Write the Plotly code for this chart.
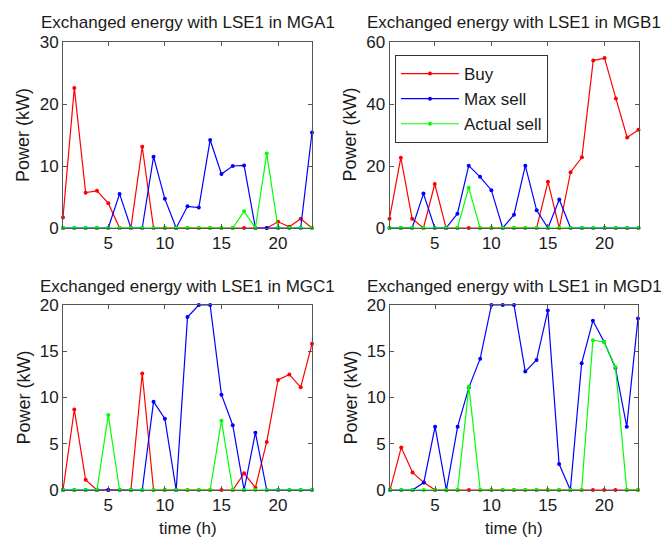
import plotly.graph_objects as go

hours = list(range(1, 24))
x_ticks = [5, 10, 15, 20]

# MGA1
mga_buy = [1.7, 22.6, 5.7, 6.0, 4.0, 0, 0, 13.1, 0, 0, 0, 0, 0, 0, 0, 0, 0, 0, 0, 1.0, 0.2, 1.5, 0]
mga_max = [0, 0, 0, 0, 0, 5.5, 0, 0, 11.5, 4.7, 0, 3.5, 3.3, 14.2, 8.7, 10.0, 10.1, 0, 0, 0, 0, 0, 15.4]
mga_act = [0, 0, 0, 0, 0, 0, 0, 0, 0, 0, 0, 0, 0, 0, 0, 0, 2.7, 0, 12.0, 0, 0, 0, 0]
# MGB1
mgb_buy = [3.0, 22.7, 3.0, 0, 14.2, 0, 0, 0, 0, 0, 0, 0, 0, 0, 14.9, 0, 18.0, 22.8, 54.0, 54.8, 41.8, 29.2, 31.7]
mgb_max = [0, 0, 0, 11.1, 0, 0, 4.6, 20.1, 16.5, 12.2, 0, 4.3, 20.1, 5.7, 0, 9.2, 0, 0, 0, 0, 0, 0, 0]
mgb_act = [0, 0, 0, 0, 0, 0, 0, 13.0, 0, 0, 0, 0, 0, 0, 0, 0, 0, 0, 0, 0, 0, 0, 0]
# MGC1
mgc_buy = [0, 8.7, 1.1, 0, 0, 0, 0, 12.6, 0, 0, 0, 0, 0, 0, 0, 0, 1.8, 0.25, 5.2, 11.9, 12.5, 11.1, 15.8]
mgc_max = [0, 0, 0, 0, 0, 0, 0, 0, 9.55, 7.7, 0, 18.7, 20, 20, 10.3, 7.0, 0, 6.2, 0, 0, 0, 0, 0]
mgc_act = [0, 0, 0, 0, 8.1, 0, 0, 0, 0, 0, 0, 0, 0, 0, 7.5, 0, 0, 0, 0, 0, 0, 0, 0]
# MGD1
mgd_buy = [0, 4.6, 1.9, 0.8, 0, 0, 0, 0, 0, 0, 0, 0, 0, 0, 0, 0, 0, 0, 0, 0, 0, 0, 0]
mgd_max = [0, 0, 0, 0.8, 6.85, 0, 6.85, 11.1, 14.2, 20, 20, 20, 12.8, 14.05, 19.4, 2.8, 0, 13.7, 18.3, 16.0, 13.2, 6.85, 18.55]
mgd_act = [0, 0, 0, 0, 0, 0, 0, 11.2, 0, 0, 0, 0, 0, 0, 0, 0, 0, 0, 16.2, 16.0, 13.3, 0, 0]

titles = ["Exchanged energy with LSE1 in MGA1", "Exchanged energy with LSE1 in MGB1",
          "Exchanged energy with LSE1 in MGC1", "Exchanged energy with LSE1 in MGD1"]
series_names = ["Buy", "Max sell", "Actual sell"]
colors = ["rgb(255,0,0)", "rgb(0,0,255)", "rgb(0,255,0)"]
panels = [(mga_buy, mga_max, mga_act), (mgb_buy, mgb_max, mgb_act),
          (mgc_buy, mgc_max, mgc_act), (mgd_buy, mgd_max, mgd_act)]
y_ranges = [[0, 30], [0, 60], [0, 20], [0, 20]]
y_ticks = [[0, 10, 20, 30], [0, 20, 40, 60], [0, 5, 10, 15, 20], [0, 5, 10, 15, 20]]

W, H = 667, 539
# pixel boxes (left, right, top, bottom)
boxes = [(63, 312, 42, 228), (389.5, 638.5, 42, 228), (63, 312, 305, 490), (390, 638, 305, 490)]

fig = go.Figure()
FONT = "Liberation Sans, Arial, sans-serif"
axis_color = "#555555"
TXT = "#1a1a1a"

for i, (panel, box) in enumerate(zip(panels, boxes)):
    xa = "x" if i == 0 else f"x{i+1}"
    ya = "y" if i == 0 else f"y{i+1}"
    for j, vals in enumerate(panel):
        fig.add_trace(go.Scatter(
            x=hours, y=vals, mode="lines+markers", name=series_names[j],
            line=dict(color=colors[j], width=1.2),
            marker=dict(color=colors[j], size=4),
            xaxis=xa, yaxis=ya, showlegend=(i == 1), cliponaxis=False))
    l, r, t, b = box
    xkey = "xaxis" if i == 0 else f"xaxis{i+1}"
    ykey = "yaxis" if i == 0 else f"yaxis{i+1}"
    fig.update_layout(**{
        xkey: dict(domain=[l / W, r / W], anchor=ya, range=[1, 23], tickvals=x_ticks,
                   ticks="inside", ticklen=4, tickcolor=axis_color, showline=True,
                   linecolor=axis_color, linewidth=1, mirror="allticks", showgrid=False,
                   zeroline=False, automargin=False,
                   tickfont=dict(size=17, color=TXT, family=FONT)),
        ykey: dict(domain=[1 - b / H, 1 - t / H], anchor=xa, range=y_ranges[i], tickvals=y_ticks[i],
                   ticks="inside", ticklen=4, tickcolor=axis_color, showline=True,
                   linecolor=axis_color, linewidth=1, mirror="allticks", showgrid=False,
                   zeroline=False, automargin=False,
                   tickfont=dict(size=17, color=TXT, family=FONT)),
    })
    fig.add_annotation(text=titles[i], x=(l + r) / 2 / W, y=1 - (t - 19) / H, xref="paper", yref="paper",
                       showarrow=False, font=dict(size=17, color=TXT, family=FONT),
                       xanchor="center", yanchor="middle")
    fig.add_annotation(text="Power (kW)", x=(l - 40) / W, y=1 - (t + b) / 2 / H, xref="paper", yref="paper",
                       showarrow=False, textangle=-90, font=dict(size=18, color=TXT, family=FONT),
                       xanchor="center", yanchor="middle")
    if i >= 2:
        fig.add_annotation(text="time (h)", x=(l + r) / 2 / W, y=1 - (b + 38) / H, xref="paper", yref="paper",
                           showarrow=False, font=dict(size=17, color=TXT, family=FONT),
                           xanchor="center", yanchor="middle")

fig.update_layout(
    template="none",
    width=W, height=H, margin=dict(l=0, r=0, t=0, b=0, pad=0, autoexpand=False),
    paper_bgcolor="white", plot_bgcolor="white",
    font=dict(family=FONT, color=TXT),
    legend=dict(x=395 / W, y=1 - 55 / H, xanchor="left", yanchor="top",
                bgcolor="white", bordercolor="#333", borderwidth=1,
                font=dict(size=17, family=FONT, color=TXT),
                itemwidth=58, tracegroupgap=0),
)

fig.write_html("out.html", config={"displayModeBar": False},
               post_script="document.body.style.margin='0';")
